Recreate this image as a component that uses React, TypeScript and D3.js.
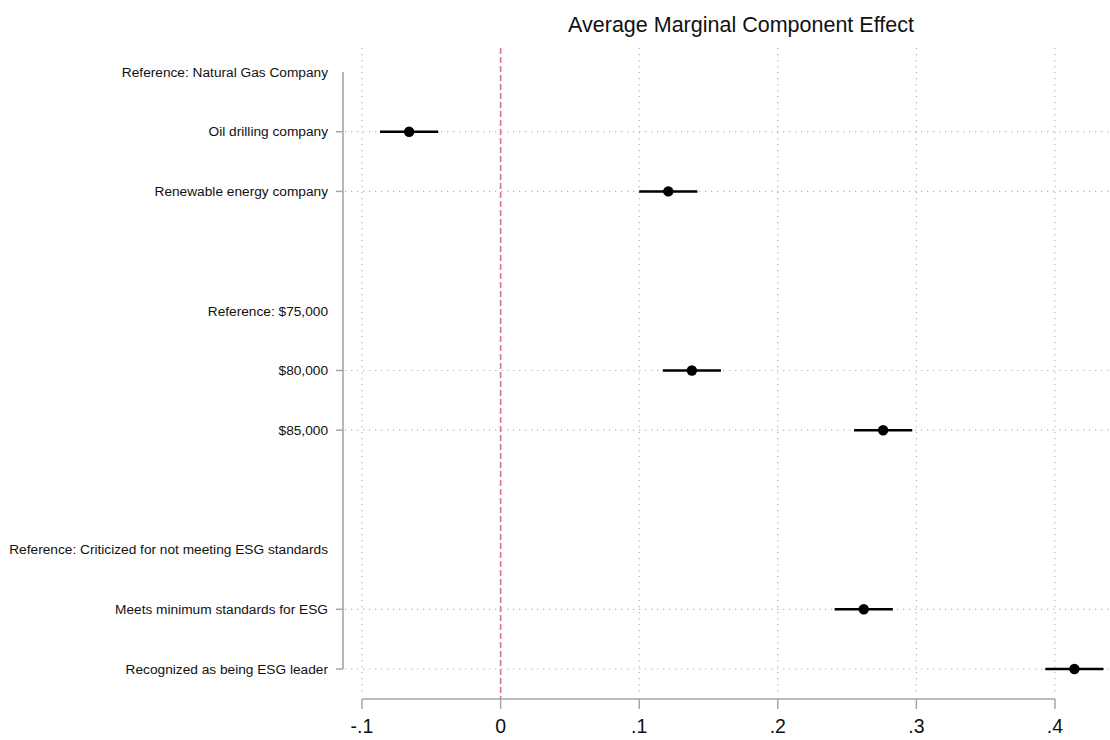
import React from "react";
import * as d3 from "d3";

const title = "Average Marginal Component Effect";
const rowLabels = [
  "Reference: Natural Gas Company",
  "Oil drilling company",
  "Renewable energy company",
  "",
  "Reference: $75,000",
  "$80,000",
  "$85,000",
  "",
  "Reference: Criticized for not meeting ESG standards",
  "Meets minimum standards for ESG",
  "Recognized as being ESG leader",
];
const estimates: (number | null)[] = [null, -0.066, 0.121, null, null, 0.138, 0.276, null, null, 0.262, 0.414];
const ciLow: (number | null)[] = [null, -0.087, 0.1, null, null, 0.117, 0.255, null, null, 0.241, 0.393];
const ciHigh: (number | null)[] = [null, -0.045, 0.142, null, null, 0.159, 0.297, null, null, 0.283, 0.435];
const xTicks = [-0.1, 0, 0.1, 0.2, 0.3, 0.4];
const xTickLabels = ["-.1", "0", ".1", ".2", ".3", ".4"];

export default function App() {
  const W = 1110, H = 740;
  const x = d3.scaleLinear().domain([-0.1, 0.4]).range([362, 1055]);
  const y = d3.scalePoint<number>().domain(rowLabels.map((_, i) => i)).range([72, 669]);
  const axisX = 343;
  const plotTop = 48, plotBottom = 693, xAxisY = 699;
  const font = "'Liberation Sans', Arial, sans-serif";
  const gridColor = "#b8b8b8";
  const axisColor = "#a6a6a6";

  return (
    <svg width={W} height={H} style={{ position: "absolute", left: 0, top: 0, background: "#fff" }}>
      {xTicks.filter((t) => t !== 0).map((t) => (
        <line key={"vg" + t} x1={x(t)} x2={x(t)} y1={plotTop} y2={plotBottom} stroke={gridColor} strokeWidth={1.2} strokeDasharray="1.3,4.7" />
      ))}
      {rowLabels.map((l, i) =>
        estimates[i] !== null ? (
          <line key={"hg" + i} x1={axisX + 2} x2={W} y1={y(i)!} y2={y(i)!} stroke={gridColor} strokeWidth={1.2} strokeDasharray="1.3,4.7" />
        ) : null
      )}
      <line x1={x(0)} x2={x(0)} y1={plotTop} y2={xAxisY} stroke="#d07ba9" strokeWidth={1.7} strokeDasharray="6,3" />
      <line x1={axisX} x2={axisX} y1={y(0)!} y2={y(rowLabels.length - 1)!} stroke={axisColor} strokeWidth={1.6} />
      {rowLabels.map((l, i) => (
        <g key={"yl" + i}>
          {estimates[i] !== null && (
            <line x1={axisX - 7} x2={axisX} y1={y(i)!} y2={y(i)!} stroke={axisColor} strokeWidth={1.5} />
          )}
          <text x={328} y={y(i)!} dy="0.35em" textAnchor="end" fontFamily={font} fontSize={13.7} fill="#111">
            {l}
          </text>
        </g>
      ))}
      <line x1={x(-0.1)} x2={x(0.4)} y1={xAxisY} y2={xAxisY} stroke={axisColor} strokeWidth={1.6} />
      {xTicks.map((t, i) => (
        <g key={"xt" + t}>
          <line x1={x(t)} x2={x(t)} y1={xAxisY} y2={xAxisY + 10} stroke={axisColor} strokeWidth={1.5} />
          <text x={x(t)} y={733} textAnchor="middle" fontFamily={font} fontSize={19.5} fill="#111">
            {xTickLabels[i]}
          </text>
        </g>
      ))}
      {rowLabels.map((l, i) =>
        estimates[i] !== null ? (
          <g key={"pt" + i}>
            <line x1={x(ciLow[i]!)} x2={x(ciHigh[i]!)} y1={y(i)!} y2={y(i)!} stroke="#000" strokeWidth={2.5} />
            <circle cx={x(estimates[i]!)} cy={y(i)!} r={5.2} fill="#000" />
          </g>
        ) : null
      )}
      <text x={741} y={32} textAnchor="middle" fontFamily={font} fontSize={21.5} fill="#111">
        {title}
      </text>
    </svg>
  );
}
